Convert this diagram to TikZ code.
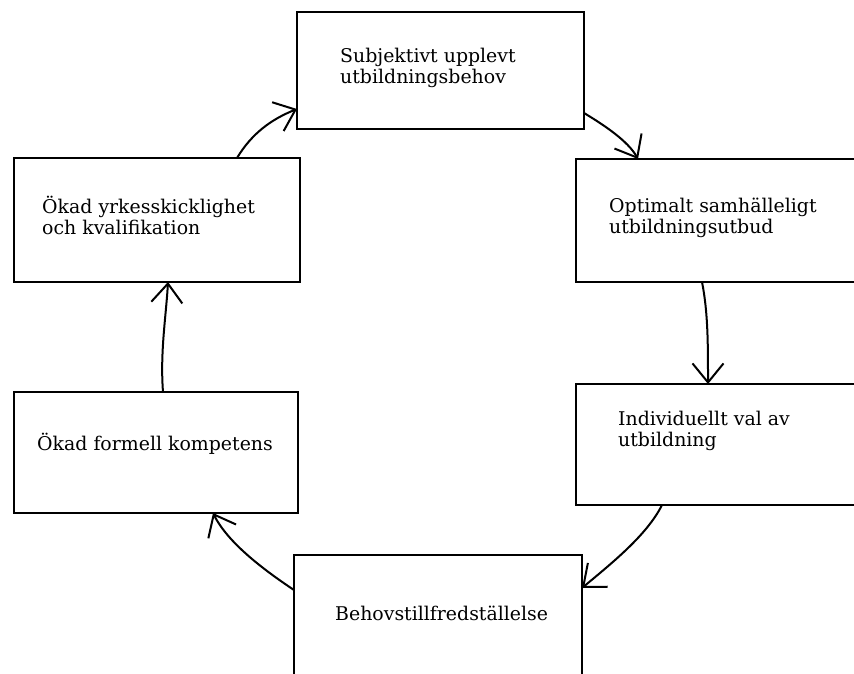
\documentclass[tikz,border=0pt]{standalone}
\usepackage{fontspec}
\setmainfont{DejaVu Serif}
\usetikzlibrary{arrows.meta}
\begin{document}
\begin{tikzpicture}[x=1pt,y=-1pt,
  box/.style={draw, line width=2.2pt, inner sep=0pt, outer sep=0pt, rectangle},
  txt/.style={anchor=base west, align=left, inner sep=0pt, font=\fontsize{18.9}{20.5}\selectfont},
  flow/.style={line width=2pt, -{Straight Barb[length=19pt,width=31pt,line width=2pt]}}]
\useasboundingbox (0,0) rectangle (854,673);
\clip (0,0) rectangle (854,673);
\fill[white] (0,0) rectangle (854,673);
% boxes
\node[box, minimum width=287pt, minimum height=117pt] (b1) at (440.5,70.5) {};
\node[box, minimum width=304pt, minimum height=123pt] (b2) at (728,220.5) {};
\node[box, minimum width=304pt, minimum height=121pt] (b3) at (728,444.5) {};
\node[box, minimum width=288pt, minimum height=145pt] (b4) at (438,627.5) {};
\node[box, minimum width=284pt, minimum height=121pt] (b5) at (156,452.5) {};
\node[box, minimum width=286pt, minimum height=124pt] (b6) at (157,220) {};
% texts (anchor at baseline of last line)
\node[txt] (t1) at (340,83) {Subjektivt upplevt\\utbildningsbehov};
\node[txt] (t2) at (609,233) {Optimalt samhälleligt\\utbildningsutbud};
\node[txt] (t3) at (618,446) {Individuellt val av\\utbildning};
\node[txt] (t4) at (335,620) {Behovstillfredställelse};
\node[txt] (t5) at (37,450) {Ökad formell kompetens};
\node[txt] (t6) at (42,234) {Ökad yrkesskicklighet\\och kvalifikation};
% connectors
\draw[flow] ([xshift=-63pt]b6.north east) .. controls +(15,-25) and +(-25,10) .. ([yshift=20pt]b1.south west);
\draw[flow] ([yshift=16pt]b1.south east) .. controls +(20,12) and +(-10,-18) .. ([xshift=62pt]b2.north west);
\draw[flow] ([xshift=126pt]b2.south west) .. controls +(6,30) and +(0,-40) .. ([xshift=132pt]b3.north west);
\draw[flow] ([xshift=86pt]b3.south west) .. controls +(-15,30) and +(30,-25) .. ([yshift=-33pt]b4.north east);
\draw[flow] ([yshift=-35pt]b4.north west) .. controls +(-30,-20) and +(15,30) .. ([xshift=199pt]b5.south west);
\draw[flow] ([xshift=149pt]b5.north west) .. controls +(-3,-40) and +(-2,35) .. ([xshift=154pt]b6.south west);
\end{tikzpicture}
\end{document}
